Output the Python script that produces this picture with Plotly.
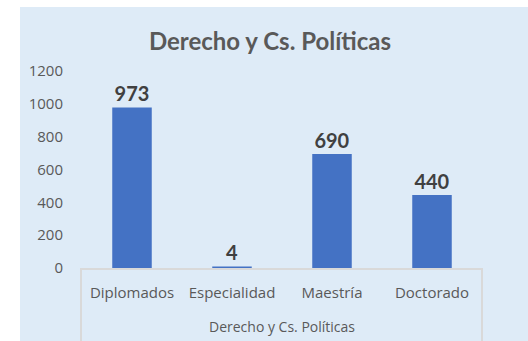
import plotly.graph_objects as go

# Programas de posgrado de Derecho y Cs. Políticas
categorias = ["Diplomados", "Especialidad", "Maestría", "Doctorado"]
valores = [973, 4, 690, 440]
y_ticks = [0, 200, 400, 600, 800, 1000, 1200]

W, H = 528, 341
L, R, T, B = 82, 46, 71, 73  # plot area: x 82..482, y 71..268
PW, PH = W - L - R, H - T - B


def px(x):
    return (x - L) / PW


def py(y):
    return (H - B - y) / PH


FONT_TIT = "Lato"
FONT_EJE = "Open Sans"
GRIS = "#595959"
AZUL = "#4472C4"

fig = go.Figure(
    go.Bar(
        x=categorias,
        y=valores,
        marker=dict(color=AZUL, line=dict(color=AZUL, width=1.5)),
        text=[str(v) for v in valores],
        textposition="outside",
        textfont=dict(family=FONT_TIT, size=20, color="#404040", weight="bold"),
        cliponaxis=False,
        hoverinfo="skip",
    )
)

shapes = [
    # fondo celeste del gráfico
    dict(type="rect", xref="paper", yref="paper", x0=px(20), x1=px(W + 5),
         y0=py(H + 5), y1=py(7), fillcolor="#DEEBF7", line=dict(width=0), layer="below"),
    # recuadro del eje de categorías
    dict(type="path", xref="paper", yref="paper",
         path=f"M {px(81)} {py(H + 5)} L {px(81)} {py(269)} L {px(482)} {py(269)} L {px(482)} {py(H + 5)}",
         line=dict(color="#D9D9D9", width=2), layer="below"),
]

fig.update_layout(
    width=W,
    height=H,
    margin=dict(l=L, r=R, t=T, b=B, pad=0),
    paper_bgcolor="white",
    plot_bgcolor="rgba(0,0,0,0)",
    showlegend=False,
    bargap=0.62,
    shapes=shapes,
    title=dict(
        text="<b>Derecho y Cs. Políticas</b>",
        font=dict(family=FONT_TIT, size=24, color=GRIS),
        x=px(270), xanchor="center", xref="paper",
        y=1 - 42 / H, yanchor="middle",
    ),
    xaxis=dict(
        range=[-0.5, 3.5],
        automargin=False,
        showgrid=False, zeroline=False, showline=False,
        ticks="", ticklabelstandoff=14,
        tickfont=dict(family=FONT_EJE, size=15, color=GRIS),
        title=dict(text="Derecho y Cs. Políticas", standoff=21,
                   font=dict(family=FONT_EJE, size=14, color=GRIS)),
        fixedrange=True,
    ),
    yaxis=dict(
        range=[0, 1200],
        automargin=False,
        tickvals=y_ticks,
        showgrid=False, zeroline=False, showline=False,
        ticks="", ticklabelstandoff=18,
        tickfont=dict(family=FONT_EJE, size=15, color=GRIS),
        fixedrange=True,
    ),
)

fig.write_html("out.html")
